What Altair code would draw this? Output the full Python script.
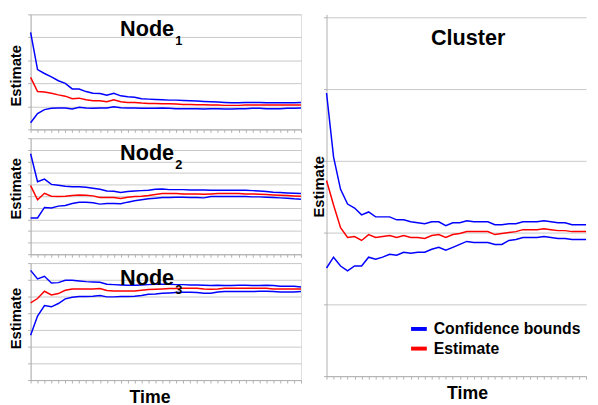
import altair as alt
import pandas as pd

# ---- data (arbitrary units; grid lines mark equal steps) ----
t_node = list(range(40))
t_cluster = list(range(38))

node1_upper = [295, 182, 170, 160, 148, 140, 123, 123, 115, 110, 109, 104, 110, 102, 99, 98, 93, 92, 91, 90,
               89, 89, 88, 87, 86, 85, 84, 83, 82, 81, 81, 82, 82, 82, 81, 81, 81, 81, 81, 82]
node1_est = [158, 115, 114, 110, 105, 101, 93, 95, 90, 87, 87, 84, 90, 84, 82, 82, 80, 79, 79, 78,
             78, 77, 76, 76, 75, 75, 74, 74, 73, 73, 73, 74, 74, 74, 74, 74, 74, 74, 74, 74]
node1_lower = [20, 48, 60, 64, 65, 65, 62, 67, 65, 64, 65, 65, 69, 66, 65, 65, 64, 64, 64, 65,
               64, 63, 63, 63, 63, 62, 63, 63, 62, 62, 63, 63, 64, 64, 63, 63, 63, 64, 64, 65]

node2_upper = [305, 220, 228, 212, 209, 206, 205, 205, 203, 200, 197, 192, 191, 187, 190, 192, 193, 194, 197, 198,
               196, 196, 196, 195, 195, 195, 194, 194, 194, 194, 194, 194, 193, 192, 190, 188, 187, 186, 185, 184]
node2_est = [208, 165, 185, 176, 175, 176, 178, 180, 179, 177, 172, 172, 172, 169, 173, 175, 176, 178, 181, 184,
             184, 184, 183, 183, 183, 182, 183, 184, 184, 184, 184, 183, 183, 182, 181, 180, 179, 178, 177, 176]
node2_lower = [110, 110, 142, 140, 146, 148, 154, 158, 158, 156, 152, 154, 154, 153, 158, 162, 165, 168, 170, 172,
               172, 173, 173, 172, 172, 171, 175, 175, 175, 175, 175, 175, 174, 174, 173, 172, 171, 170, 168, 167]

node3_upper = [331, 305, 313, 293, 294, 301, 301, 299, 297, 296, 295, 289, 288, 287, 286, 286, 287, 288, 289, 289,
               289, 288, 288, 287, 287, 286, 285, 286, 285, 285, 286, 286, 285, 285, 286, 285, 283, 283, 283, 281]
node3_est = [233, 246, 268, 257, 261, 271, 275, 275, 275, 275, 276, 270, 269, 269, 269, 269, 271, 273, 274, 275,
             276, 276, 277, 277, 277, 275, 274, 275, 277, 277, 277, 277, 277, 277, 277, 275, 275, 275, 275, 275]
node3_lower = [135, 193, 225, 221, 231, 245, 250, 252, 252, 253, 255, 251, 251, 252, 252, 253, 255, 259, 260, 262,
               263, 264, 265, 265, 264, 262, 262, 266, 267, 267, 267, 267, 267, 268, 268, 267, 266, 266, 266, 267]

cluster_upper = [288, 223, 190, 175, 171, 164, 167, 162, 162, 162, 159, 159, 157, 156, 155, 157, 157, 153, 156, 156,
                 158, 157, 157, 157, 154, 154, 155, 155, 157, 157, 157, 158, 157, 156, 156, 154, 154, 154]
cluster_est = [199, 174, 151, 141, 142, 138, 144, 141, 142, 143, 141, 143, 141, 141, 140, 143, 144, 141, 144, 145,
               147, 147, 147, 147, 144, 145, 146, 147, 149, 149, 149, 150, 149, 148, 148, 147, 147, 147]
cluster_lower = [110, 121, 112, 107, 112, 112, 121, 119, 121, 124, 123, 126, 125, 126, 126, 129, 131, 128, 131, 134,
                 137, 136, 136, 136, 134, 134, 138, 139, 141, 141, 141, 142, 141, 140, 140, 139, 139, 139]

# y range of each panel and its grid lines (equal steps)
node1_range, node1_steps, node1_step = 350, 5, 70
node2_range, node2_steps, node2_step = 352, 10, 35.2
node3_range, node3_steps, node3_step = 353, 7, 353 / 7
cluster_range, cluster_steps, cluster_step = 368, 5, 73

kinds = ["Confidence bounds", "Estimate"]
colors = ["#0000ff", "#ff0000"]
node_subs = ["1", "2", "3"]

FONT = "Liberation Sans"
GRID = "#c8c8c8"
BORDER = "#b0b0b0"


def long_df(t, upper, est, lower):
    rows = []
    for name, kind, vals in [("upper", kinds[0], upper), ("estimate", kinds[1], est), ("lower", kinds[0], lower)]:
        for ti, v in zip(t, vals):
            rows.append({"t": ti, "value": v, "series": name, "kind": kind})
    return pd.DataFrame(rows)


color_scale = alt.Scale(domain=kinds, range=colors)
legend = alt.Legend(title=None, orient="none", legendX=385, legendY=310, symbolType="stroke",
                    symbolStrokeWidth=4, symbolSize=256, labelFont=FONT, labelFontSize=16,
                    labelFontWeight="bold", labelColor="black", rowPadding=2, labelOffset=5, padding=0)


def panel(df, t, yrange, steps, step, width, height, title_y, time_title=False, time_x=0, y_title_pad=4):
    n = len(t)
    xaxis_kw = dict(values=t, labels=False, ticks=True, tickSize=3, tickColor=BORDER,
                    domainColor=BORDER, grid=False, minExtent=0)
    if time_title:
        xaxis_kw.update(title="Time", titleFont=FONT, titleFontSize=18, titleFontWeight="bold",
                        titleColor="black", titlePadding=5, titleX=time_x)
    else:
        xaxis_kw.update(title=None)
    yvals = [step * i for i in range(steps + 1)]
    yaxis = alt.Axis(values=yvals, labels=False, tickSize=3, tickColor=BORDER, domainColor=BORDER,
                     grid=True, gridColor=GRID, gridWidth=1, title="Estimate", titleFont=FONT,
                     titleFontSize=15, titleFontWeight="bold", titleColor="black",
                     titlePadding=y_title_pad, titleY=title_y, minExtent=0)
    lines = alt.Chart(df).mark_line(strokeWidth=1.5).encode(
        x=alt.X("t:Q", scale=alt.Scale(domain=[0, n - 1], nice=False, zero=False), axis=alt.Axis(**xaxis_kw)),
        y=alt.Y("value:Q", scale=alt.Scale(domain=[0, yrange], nice=False, zero=False), axis=yaxis),
        color=alt.Color("kind:N", scale=color_scale, legend=legend),
        detail="series:N",
    )
    return lines.properties(width=width, height=height)


def node_title(sub):
    main = alt.Chart(pd.DataFrame({"label": ["Node"]})).mark_text(
        align="left", baseline="alphabetic", font=FONT, fontSize=22, fontWeight="bold", color="black"
    ).encode(x=alt.value(91), y=alt.value(22), text="label:N")
    s = alt.Chart(pd.DataFrame({"label": [sub]})).mark_text(
        align="left", baseline="alphabetic", font=FONT, fontSize=13, fontWeight="bold", color="black"
    ).encode(x=alt.value(147), y=alt.value(31), text="label:N")
    return main, s


p1 = panel(long_df(t_node, node1_upper, node1_est, node1_lower), t_node, node1_range, node1_steps, node1_step,
           275, 117, 62)
p2 = panel(long_df(t_node, node2_upper, node2_est, node2_lower), t_node, node2_range, node2_steps, node2_step,
           275, 118, 51)
p3 = panel(long_df(t_node, node3_upper, node3_est, node3_lower), t_node, node3_range, node3_steps, node3_step,
           275, 119, 56, time_title=True, time_x=121)

n1 = alt.layer(p1, *node_title(node_subs[0]))
n2 = alt.layer(p2, *node_title(node_subs[1]))
n3 = alt.layer(p3, *node_title(node_subs[2]))

pc = panel(long_df(t_cluster, cluster_upper, cluster_est, cluster_lower), t_cluster, cluster_range,
           cluster_steps, cluster_step, 264, 368, 175, time_title=True, time_x=143, y_title_pad=-3)
cluster_title = alt.Chart(pd.DataFrame({"label": ["Cluster"]})).mark_text(
    align="center", baseline="alphabetic", font=FONT, fontSize=22, fontWeight="bold", color="black"
).encode(x=alt.value(144), y=alt.value(31), text="label:N")
right = alt.layer(pc, cluster_title).properties(view=alt.ViewBackground(stroke="transparent"))

left = alt.vconcat(n1, n2, n3, spacing=4)
chart = alt.hconcat(left, right, spacing=6).properties(
    padding={"left": 0, "top": 2, "right": 0, "bottom": 0}
).configure_view(stroke=BORDER, strokeWidth=1).configure(background="white")

chart.save("out.html", embed_options={"renderer": "svg", "actions": False})
